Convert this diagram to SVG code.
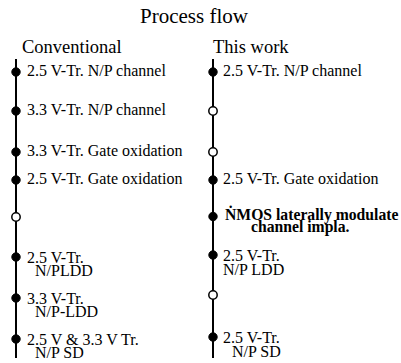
<svg xmlns="http://www.w3.org/2000/svg" width="401" height="363" viewBox="0 0 401 363">
  <style>
    text { font-family: "Liberation Serif", "Times New Roman", serif; fill: #000; }
    .title { font-size: 21px; }
    .head { font-size: 18.5px; }
    .lbl { font-size: 16px; }
    .bold { font-size: 15.7px; font-weight: bold; }
    .flow { stroke: #000; stroke-width: 2; fill: none; }
    .done { fill: #000; stroke: #000; stroke-width: 1; }
    .skip { fill: #fff; stroke: #000; stroke-width: 1.5; }
  </style>
  <rect width="401" height="363" fill="#fff"/>

  <text class="title" x="140" y="23">Process flow</text>
  <text class="head" x="22" y="53">Conventional</text>
  <text class="head" x="213" y="53">This work</text>

  <!-- process flow spines -->
  <g id="connectors">
    <line class="flow" x1="16" y1="59" x2="16" y2="358"/>
    <line class="flow" x1="213" y1="59" x2="213" y2="358"/>
  </g>

  <!-- conventional flow steps -->
  <g id="conv-1"><circle class="done" cx="16" cy="72" r="4.2"/><text class="lbl" x="27" y="76">2.5 V-Tr. N/P channel</text></g>
  <g id="conv-2"><circle class="done" cx="16" cy="111" r="4.2"/><text class="lbl" x="27" y="115">3.3 V-Tr. N/P channel</text></g>
  <g id="conv-3"><circle class="done" cx="16" cy="152" r="4.2"/><text class="lbl" x="27" y="156">3.3 V-Tr. Gate oxidation</text></g>
  <g id="conv-4"><circle class="done" cx="16" cy="180" r="4.2"/><text class="lbl" x="27" y="184">2.5 V-Tr. Gate oxidation</text></g>
  <g id="conv-5"><circle class="skip" cx="16" cy="217" r="4.2"/></g>
  <g id="conv-6"><circle class="done" cx="16" cy="257" r="4.2"/><text class="lbl" x="27" y="263">2.5 V-Tr.</text><text class="lbl" x="35" y="276">N/PLDD</text></g>
  <g id="conv-7"><circle class="done" cx="16" cy="298" r="4.2"/><text class="lbl" x="27" y="304">3.3 V-Tr.</text><text class="lbl" x="35" y="317">N/P-LDD</text></g>
  <g id="conv-8"><circle class="done" cx="16" cy="339" r="4.2"/><text class="lbl" x="27" y="345">2.5 V &amp; 3.3 V Tr.</text><text class="lbl" x="35" y="357.5">N/P SD</text></g>

  <!-- proposed flow steps -->
  <g id="work-1"><circle class="done" cx="213" cy="72" r="4.2"/><text class="lbl" x="223" y="76">2.5 V-Tr. N/P channel</text></g>
  <g id="work-2"><circle class="skip" cx="213" cy="111" r="4.2"/></g>
  <g id="work-3"><circle class="skip" cx="213" cy="152" r="4.2"/></g>
  <g id="work-4"><circle class="done" cx="213" cy="180" r="4.2"/><text class="lbl" x="223" y="184">2.5 V-Tr. Gate oxidation</text></g>
  <g id="work-5"><circle class="done" cx="213" cy="216.5" r="4.2"/><text class="bold" x="225" y="220">Ṅ<tspan>MOS laterally modulate</tspan></text><text class="bold" x="251" y="232">channel impla.</text></g>
  <g id="work-6"><circle class="done" cx="213" cy="255" r="4.2"/><text class="lbl" x="223" y="261">2.5 V-Tr.</text><text class="lbl" x="223" y="275">N/P LDD</text></g>
  <g id="work-7"><circle class="skip" cx="213" cy="295" r="4.2"/></g>
  <g id="work-8"><circle class="done" cx="213" cy="337" r="4.2"/><text class="lbl" x="223" y="343">2.5 V-Tr.</text><text class="lbl" x="232" y="356.5">N/P SD</text></g>
</svg>
